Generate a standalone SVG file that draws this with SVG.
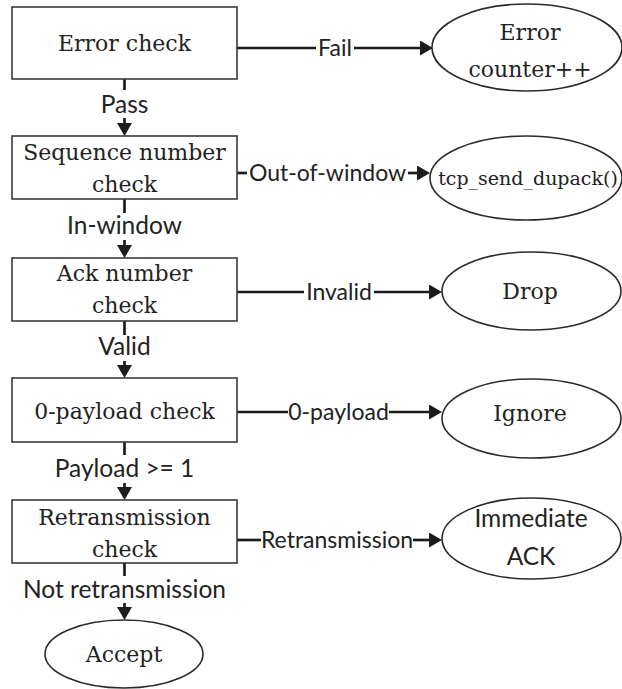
<svg xmlns="http://www.w3.org/2000/svg" width="622" height="689" viewBox="0 0 622 689">
  <style>
    .box { fill: #ffffff; stroke: #3a3a3a; stroke-width: 1.6; }
    .ell { fill: #ffffff; stroke: #2a2a2a; stroke-width: 1.6; }
    .conn { stroke: #1c1c1c; stroke-width: 2.7; fill: none; }
    .serif { font-family: "DejaVu Serif", "Liberation Serif", serif; font-size: 22px; fill: #222222; text-anchor: middle; }
    .lbl { font-family: "Lato", "Liberation Sans", sans-serif; font-size: 23px; fill: #222222; text-anchor: middle; }
    .lblv { font-family: "Lato", "Liberation Sans", sans-serif; font-size: 24.5px; fill: #222222; text-anchor: middle; }
  </style>
  <defs>
    <marker id="ah" markerUnits="userSpaceOnUse" markerWidth="15" markerHeight="15" refX="10" refY="7.5" orient="auto">
      <path d="M0,0 L13,7.5 L0,15 z" fill="#1c1c1c"/>
    </marker>
  </defs>
  <rect width="622" height="689" fill="#ffffff"/>

  <g id="connectors">
    <!-- vertical flow -->
    <line class="conn" x1="124.5" y1="79" x2="124.5" y2="90"/>
    <line class="conn" x1="124.5" y1="118" x2="124.5" y2="133" marker-end="url(#ah)"/>
    <line class="conn" x1="124.5" y1="199" x2="124.5" y2="213"/>
    <line class="conn" x1="124.5" y1="240" x2="124.5" y2="255" marker-end="url(#ah)"/>
    <line class="conn" x1="124.5" y1="321" x2="124.5" y2="335"/>
    <line class="conn" x1="124.5" y1="361" x2="124.5" y2="375" marker-end="url(#ah)"/>
    <line class="conn" x1="124.5" y1="442" x2="124.5" y2="455"/>
    <line class="conn" x1="124.5" y1="483" x2="124.5" y2="497" marker-end="url(#ah)"/>
    <line class="conn" x1="124.5" y1="563" x2="124.5" y2="576"/>
    <line class="conn" x1="124.5" y1="603" x2="124.5" y2="617" marker-end="url(#ah)"/>
    <!-- horizontal branches -->
    <line class="conn" x1="237" y1="48" x2="316" y2="48"/>
    <line class="conn" x1="354" y1="48" x2="430" y2="48" marker-end="url(#ah)"/>
    <line class="conn" x1="237" y1="173" x2="247" y2="173"/>
    <line class="conn" x1="408" y1="173" x2="427" y2="173" marker-end="url(#ah)"/>
    <line class="conn" x1="237" y1="292" x2="304" y2="292"/>
    <line class="conn" x1="374" y1="292" x2="439" y2="292" marker-end="url(#ah)"/>
    <line class="conn" x1="237" y1="412" x2="288" y2="412"/>
    <line class="conn" x1="389" y1="412" x2="439" y2="412" marker-end="url(#ah)"/>
    <line class="conn" x1="237" y1="540" x2="261" y2="540"/>
    <line class="conn" x1="413" y1="540" x2="439" y2="540" marker-end="url(#ah)"/>
    <!-- labels -->
    <text class="lblv" x="124.5" y="113">Pass</text>
    <text class="lblv" x="124.5" y="234">In-window</text>
    <text class="lblv" x="124.5" y="355">Valid</text>
    <text class="lblv" x="124.5" y="477">Payload &gt;= 1</text>
    <text class="lblv" x="124.5" y="598">Not retransmission</text>
    <text class="lbl" x="335" y="56">Fail</text>
    <text class="lbl" x="327.5" y="181">Out-of-window</text>
    <text class="lbl" x="339" y="300">Invalid</text>
    <text class="lbl" x="338.5" y="420">0-payload</text>
    <text class="lbl" x="337" y="548">Retransmission</text>
  </g>

  <g id="error-check">
    <rect class="box" x="12" y="7" width="225" height="72"/>
    <text class="serif" x="124.5" y="51">Error check</text>
  </g>
  <g id="sequence-check">
    <rect class="box" x="12" y="136" width="225" height="63"/>
    <text class="serif" x="124.5" y="160">Sequence number</text>
    <text class="serif" x="124.5" y="192">check</text>
  </g>
  <g id="ack-check">
    <rect class="box" x="12" y="258" width="225" height="63"/>
    <text class="serif" x="124.5" y="281">Ack number</text>
    <text class="serif" x="124.5" y="313">check</text>
  </g>
  <g id="payload-check">
    <rect class="box" x="12" y="378" width="225" height="64"/>
    <text class="serif" x="124.5" y="419">0-payload check</text>
  </g>
  <g id="retransmission-check">
    <rect class="box" x="12" y="500" width="225" height="63"/>
    <text class="serif" x="124.5" y="525">Retransmission</text>
    <text class="serif" x="124.5" y="557">check</text>
  </g>

  <g id="error-counter">
    <ellipse class="ell" cx="527" cy="47.5" rx="95" ry="43.5"/>
    <text class="serif" x="530" y="40">Error</text>
    <text class="serif" x="530" y="77">counter++</text>
  </g>
  <g id="dupack">
    <ellipse class="ell" cx="526" cy="178" rx="96" ry="42"/>
    <text class="serif" x="528" y="185" style="font-size:19px">tcp_send_dupack()</text>
  </g>
  <g id="drop">
    <ellipse class="ell" cx="531.5" cy="291" rx="89.5" ry="39"/>
    <text class="serif" x="530" y="299">Drop</text>
  </g>
  <g id="ignore">
    <ellipse class="ell" cx="531.5" cy="418.5" rx="89.5" ry="39.5"/>
    <text class="serif" x="530" y="421">Ignore</text>
  </g>
  <g id="immediate-ack">
    <ellipse class="ell" cx="531.5" cy="538.5" rx="89.5" ry="40.5"/>
    <text class="lblv" x="531" y="527">Immediate</text>
    <text class="lblv" x="531" y="565">ACK</text>
  </g>
  <g id="accept">
    <ellipse class="ell" cx="124" cy="654" rx="79" ry="34"/>
    <text class="serif" x="124" y="662">Accept</text>
  </g>
</svg>
